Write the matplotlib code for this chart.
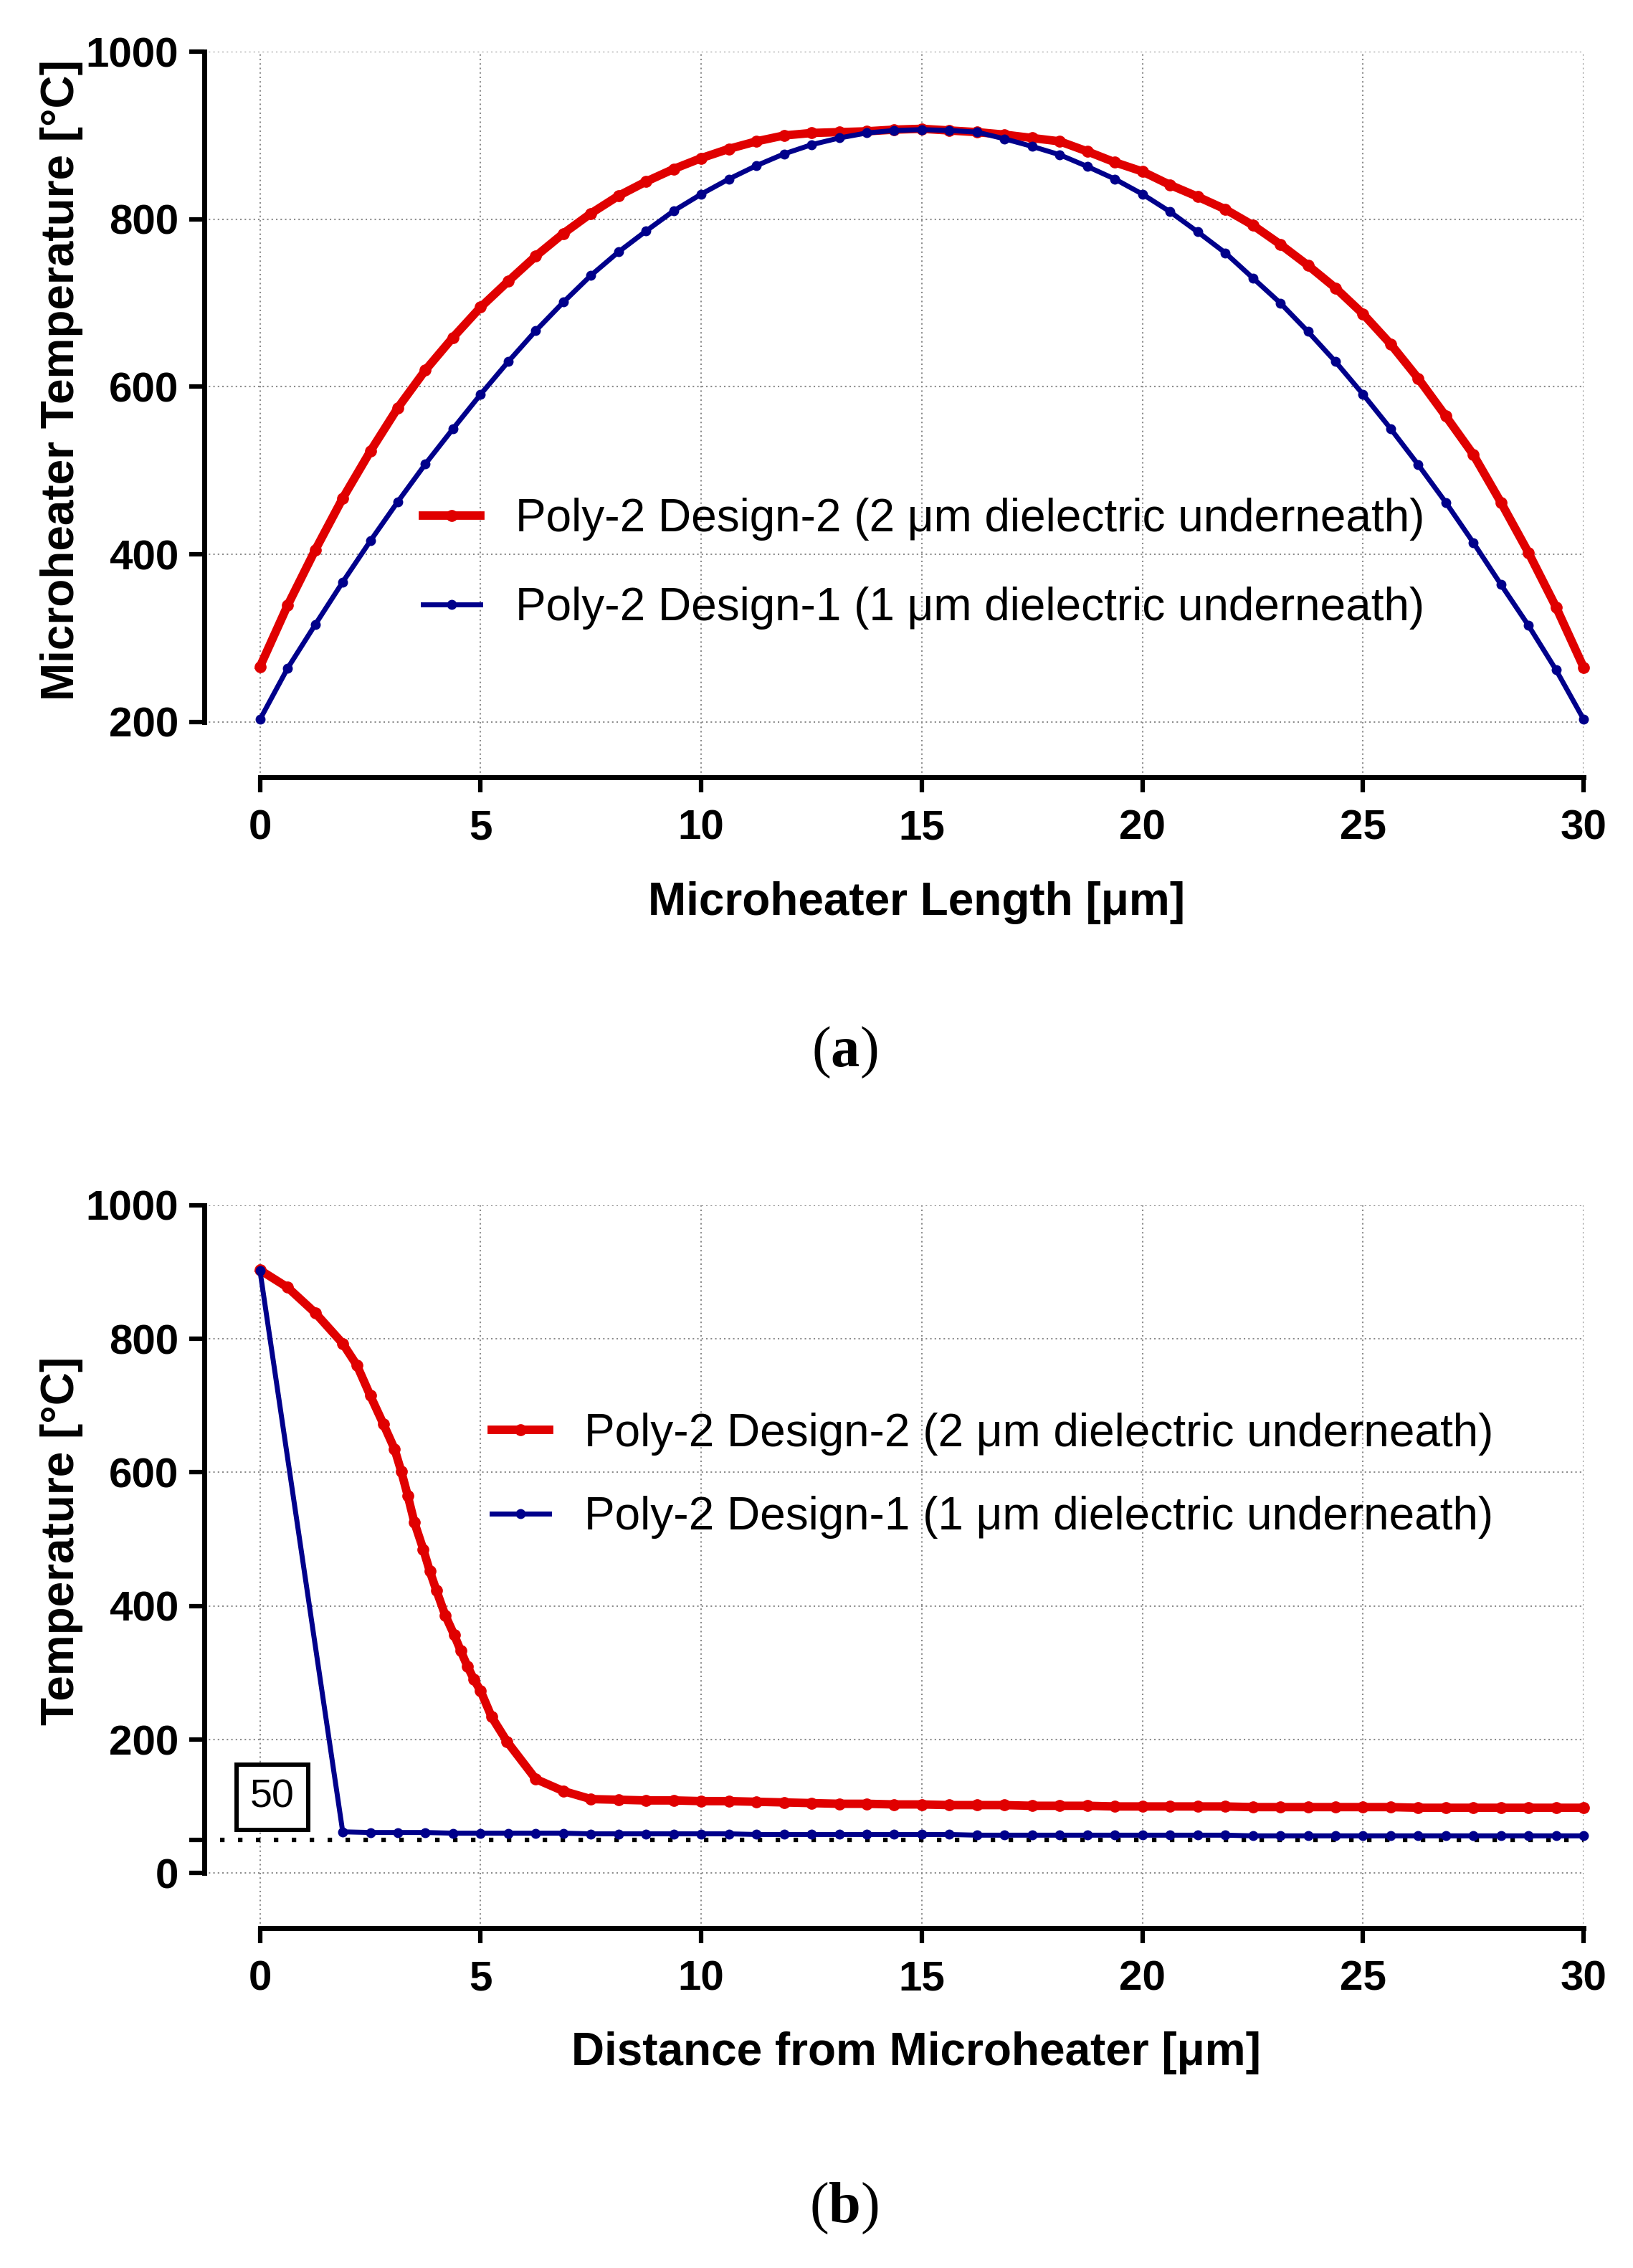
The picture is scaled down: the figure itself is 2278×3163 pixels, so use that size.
import matplotlib
matplotlib.use("Agg")
import matplotlib.pyplot as plt

plt.rcParams['font.family'] = ['Liberation Sans', 'DejaVu Sans']
plt.rcParams['mathtext.fontset'] = 'custom'
plt.rcParams['mathtext.rm'] = 'Liberation Serif'
plt.rcParams['mathtext.bf'] = 'Liberation Serif:bold'

# == data ==
length_um = [0.0, 0.625, 1.25, 1.875, 2.5, 3.125, 3.75, 4.375, 5.0, 5.625,
             6.25, 6.875, 7.5, 8.125, 8.75, 9.375, 10.0, 10.625, 11.25, 11.875,
             12.5, 13.125, 13.75, 14.375, 15.0, 15.625, 16.25, 16.875, 17.5, 18.125,
             18.75, 19.375, 20.0, 20.625, 21.25, 21.875, 22.5, 23.125, 23.75, 24.375,
             25.0, 25.625, 26.25, 26.875, 27.5, 28.125, 28.75, 29.375, 30.0]

# (a) temperature along the microheater
temp_design2 = [266, 339, 405, 467, 523, 575, 620, 659, 695, 726,
                756, 783, 807, 828, 845, 860, 873, 884, 893, 900,
                903, 904, 905, 907, 908, 906, 904, 901, 897, 893,
                881, 868, 857, 841, 827, 812, 793, 770, 745, 718,
                687, 651, 610, 565, 519, 462, 402, 337, 265]
temp_design1 = [203, 264, 316, 367, 416, 463, 508, 550, 591, 630,
                667, 701, 733, 761, 786, 810, 830, 848, 864, 878,
                889, 897, 903, 906, 907, 906, 904, 896, 887, 877,
                863, 848, 830, 809, 785, 760, 730, 700, 666, 630,
                591, 550, 507, 462, 414, 364, 315, 262, 203]

# (b) temperature away from the microheater
dist_steep = [2.2, 2.5, 2.8, 3.05, 3.2, 3.35, 3.5, 3.7, 3.85, 4.0,
              4.2, 4.4, 4.55, 4.7, 4.85, 5.0, 5.25, 5.6, 6.25, 6.875, 7.5]
dist_design2 = length_um[:4] + dist_steep + length_um[13:]
away_design2 = [903, 877, 839, 793,
                760, 715, 672, 635, 602, 565, 525, 485, 452, 423,
                386, 357, 333, 310, 290, 273, 234, 197, 141, 123, 111,
                110, 109, 109, 108, 108, 107, 106, 105, 104, 104,
                103, 103, 102, 102, 102, 101, 101, 101, 100, 100,
                100, 100, 100, 99, 99, 99, 99, 99, 99, 98,
                98, 98, 98, 98, 98, 98]
dist_design1 = [0.0] + length_um[3:]
away_design1 = [902,
                62, 61, 61, 61, 60, 60, 60, 60, 60, 59,
                59, 59, 59, 59, 59, 58, 58, 58, 58, 58,
                58, 58, 58, 57, 57, 57, 57, 57, 57, 57,
                57, 57, 57, 56, 56, 56, 56, 56, 56, 56,
                56, 56, 56, 56, 56, 56]
threshold = 50

x_ticks = [0, 5, 10, 15, 20, 25, 30]
yticks_a = [200, 400, 600, 800, 1000]
yticks_b = [0, 200, 400, 600, 800, 1000]
label_d2 = "Poly-2 Design-2 (2 \u03bcm dielectric underneath)"
label_d1 = "Poly-2 Design-1 (1 \u03bcm dielectric underneath)"

RED = '#E00000'
BLUE = '#00008B'
XMIN = -1.255


def estilo(ax, ylow, ybound, yticks, ylabel, xlabel, ylab_pos):
    ax.set_xlim(XMIN, 30)
    ax.set_ylim(ylow, 1000)
    ax.spines['top'].set_visible(False)
    ax.spines['right'].set_visible(False)
    ax.spines['left'].set_bounds(ybound, 1000)
    ax.spines['bottom'].set_bounds(0, 30)
    ax.spines['left'].set_linewidth(5)
    ax.spines['bottom'].set_linewidth(5)
    ax.set_xticks(x_ticks, labels=[str(t) for t in x_ticks],
                  fontsize=42, fontweight='bold')
    ax.set_yticks(yticks, labels=[str(t) for t in yticks],
                  fontsize=42, fontweight='bold')
    ax.tick_params(which='both', direction='out', length=15, width=4.5)
    ax.tick_params(axis='x', pad=17)
    ax.tick_params(axis='y', pad=11)
    ax.grid(True, which='major', color='#8c8c8c', lw=1.5, ls=(0, (1, 2)))
    ax.set_axisbelow(True)
    ax.set_xlabel(xlabel, fontsize=46, fontweight='bold')
    ax.xaxis.set_label_coords(0.516, -0.143)
    ax.set_ylabel(ylabel, fontsize=46, fontweight='bold')
    ax.yaxis.set_label_coords(-0.088, ylab_pos)


fig = plt.figure(figsize=(22.78, 31.63), dpi=100)

# == (a) ==
ax1 = fig.add_axes([0.1253, 0.6573, 0.8445, 0.3199])
ax1.plot(length_um, temp_design2, color=RED, lw=8.5, marker='o', ms=11,
         label=label_d2, clip_on=False, zorder=3)
ax1.plot(length_um, temp_design1, color=BLUE, lw=5, marker='o', ms=9,
         label=label_d1, clip_on=False, zorder=4)
estilo(ax1, 134, 200, yticks_a, "Microheater Temperature [\u00b0C]",
       "Microheater Length [\u03bcm]", 0.547)
ax1.legend(loc='center left', bbox_to_anchor=(0.2590, 0.7515),
           bbox_transform=fig.transFigure, frameon=False, fontsize=46,
           handlelength=1.25, handletextpad=0.77, labelspacing=1.0,
           borderpad=0, borderaxespad=0)

# == (b) ==
ax2 = fig.add_axes([0.1253, 0.1499, 0.8445, 0.3187])
ax2.plot(dist_design2, away_design2, color=RED, lw=8.5, marker='o', ms=11,
         label=label_d2, clip_on=False, zorder=3)
ax2.plot(dist_design1, away_design1, color=BLUE, lw=5, marker='o', ms=9,
         label=label_d1, clip_on=False, zorder=4)
estilo(ax2, -82, 0, yticks_b, "Temperature [\u00b0C]",
       "Distance from Microheater [\u03bcm]", 0.536)
ax2.set_yticks([threshold], minor=True)
ax2.tick_params(axis='y', which='minor', length=15, width=4.5)
x_start = (-0.9 - XMIN) / (30 - XMIN)
ax2.axhline(threshold, xmin=x_start, xmax=1, color='black', lw=4.5,
            ls=(0, (1, 3)), zorder=2)
ax2.text(0.28, 114, str(threshold), fontsize=40, ha='center', va='center',
         zorder=5,
         bbox=dict(boxstyle='square,pad=0.35', fc='white', ec='black', lw=4.3))
ax2.legend(loc='center left', bbox_to_anchor=(0.3011, 0.3494),
           bbox_transform=fig.transFigure, frameon=False, fontsize=46,
           handlelength=1.25, handletextpad=0.77, labelspacing=0.88,
           borderpad=0, borderaxespad=0)

fig.text(0.517, 0.5359, r'($\mathbf{a}$)', fontsize=58, ha='center',
         va='center', family='Liberation Serif')
fig.text(0.517, 0.0263, r'($\mathbf{b}$)', fontsize=58, ha='center',
         va='center', family='Liberation Serif')

fig.savefig("out.png", dpi=100)
